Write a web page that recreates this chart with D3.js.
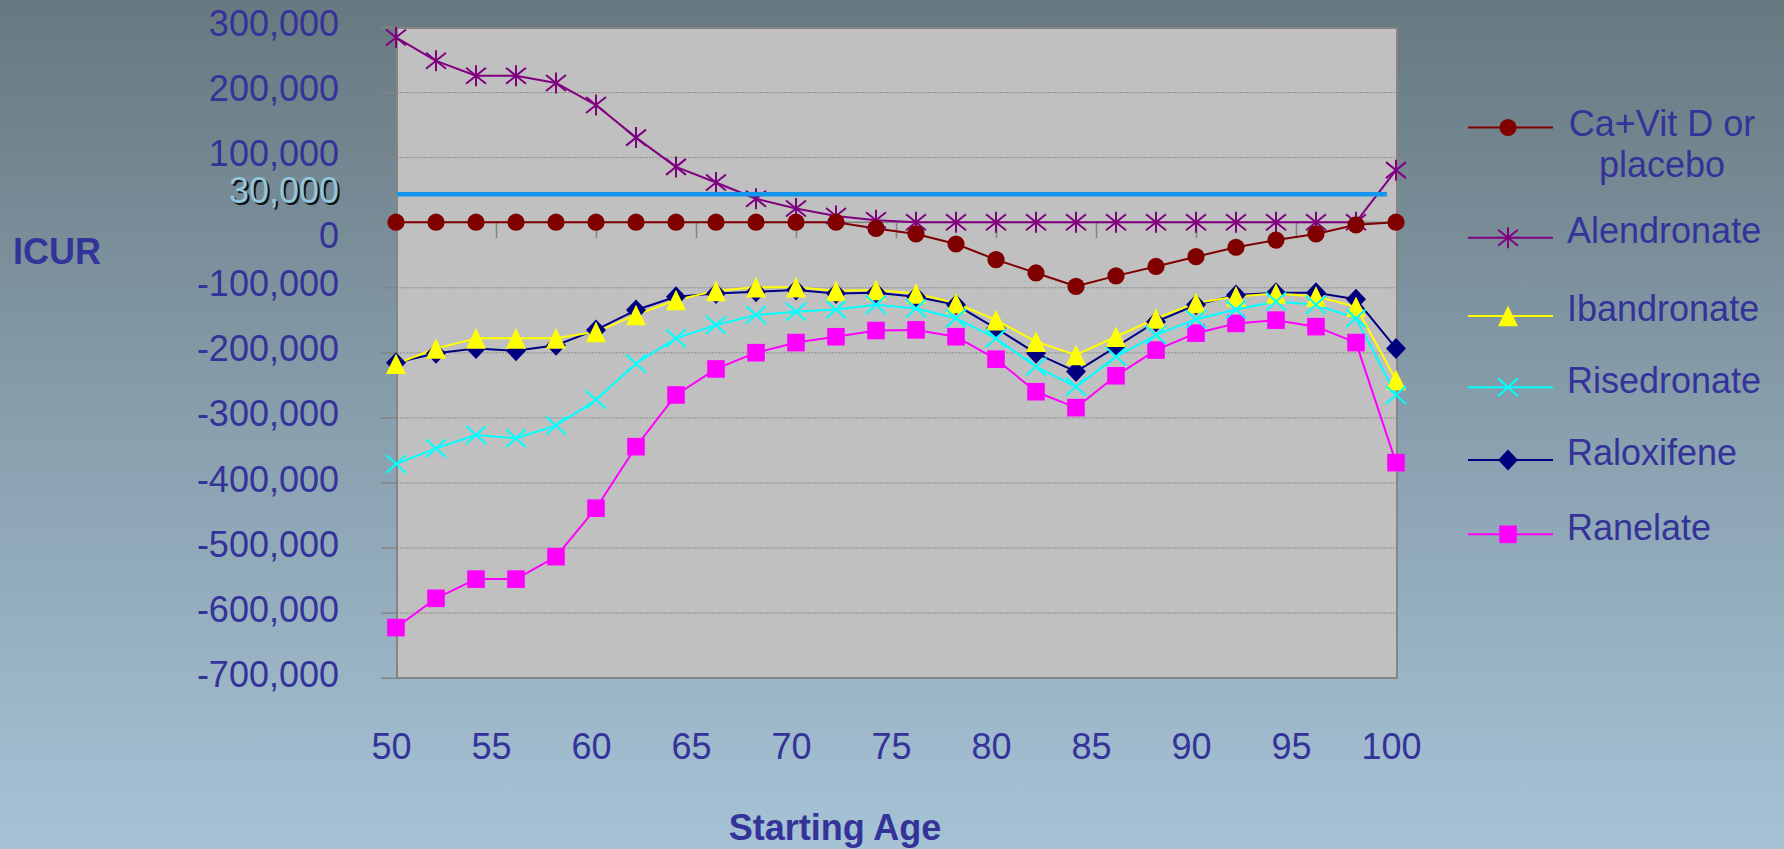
<!DOCTYPE html>
<html>
<head>
<meta charset="utf-8">
<script src="https://cdn.jsdelivr.net/npm/d3@7"></script>
<style>
  html, body { margin: 0; padding: 0; }
  svg { display: block; }
</style>
</head>
<body>
<svg id="chart" width="1784" height="849"></svg>
<script>
// ---------------- DATA ----------------
const ages = [50, 52, 54, 56, 58, 60, 62, 64, 66, 68, 70, 72, 74, 76, 78, 80, 82, 84, 86, 88, 90, 92, 94, 96, 98, 100];

const caVitD = [0, 0, 0, 0, 0, 0, 0, 0, 0, 0, 0, 0, -9500, -18000, -33500, -57500, -78000, -98500, -82500, -68000, -53000, -38500, -27500, -18000, -4000, 0];
const alendronate = [284000, 248000, 225000, 225000, 214000, 180000, 130000, 85000, 61000, 36000, 21000, 9500, 3000, 0, 0, 0, 0, 0, 0, 0, 0, 0, 0, 0, 0, 80000];
const ibandronate = [-217500, -194000, -178500, -178500, -178500, -168500, -142500, -119500, -105500, -100000, -100000, -105500, -104000, -109500, -124500, -150500, -183500, -204000, -176000, -148000, -124000, -114000, -109500, -114000, -130000, -242500];
const risedronate = [-371500, -347500, -327000, -332000, -312500, -273000, -217000, -178500, -158000, -142500, -137500, -134000, -127000, -132500, -147500, -178500, -222000, -253000, -206500, -173500, -149000, -134000, -122000, -127000, -147500, -265500];
const raloxifene = [-216000, -201500, -194000, -197500, -189000, -165500, -135000, -114500, -109500, -107000, -104000, -109500, -108500, -114500, -127000, -163000, -201500, -229500, -191500, -153000, -127000, -112000, -108500, -108500, -118500, -194000];
const ranelate = [-623000, -578000, -548500, -548500, -514000, -439500, -345000, -265500, -225500, -200500, -185000, -176000, -166500, -165500, -176000, -210500, -260500, -285000, -236000, -196500, -170500, -155500, -150500, -160500, -185000, -369500];

const seriesNames = ["Ca+Vit D or placebo", "Alendronate", "Ibandronate", "Risedronate", "Raloxifene", "Ranelate"];

const yTickValues = [300000, 200000, 100000, 0, -100000, -200000, -300000, -400000, -500000, -600000, -700000];
const yTickLabels = ["300,000", "200,000", "100,000", "0", "-100,000", "-200,000", "-300,000", "-400,000", "-500,000", "-600,000", "-700,000"];
const xTickValues = [50, 55, 60, 65, 70, 75, 80, 85, 90, 95, 100];
const xTickLabels = ["50", "55", "60", "65", "70", "75", "80", "85", "90", "95", "100"];

const thresholdValue = [43000];      // drawn reference line (as placed in the picture)
const thresholdLabel = ["30,000"];

const yTitle = "ICUR";
const xTitle = "Starting Age";

// ---------------- STYLE / LAYOUT ----------------
const FONT = "'Liberation Sans', Arial, Helvetica, sans-serif";
const TEXT_COLOR = "#333399";
const plot = { left: 397, right: 1397, top: 28, bottom: 678 };

const styles = [
  { color: "#800000", marker: "circle" },
  { color: "#800080", marker: "star" },
  { color: "#ffff00", marker: "triangle" },
  { color: "#00ffff", marker: "x" },
  { color: "#000080", marker: "diamond" },
  { color: "#ff00ff", marker: "square" }
];

const series = [caVitD, alendronate, ibandronate, risedronate, raloxifene, ranelate].map((vals, i) => ({
  name: seriesNames[i],
  values: vals.map((v, j) => ({ age: ages[j], v })),
  ...styles[i]
}));

const svg = d3.select("#chart");

// background gradient
const defs = svg.append("defs");
const grad = defs.append("linearGradient").attr("id", "bg").attr("x1", 0).attr("y1", 0).attr("x2", 0).attr("y2", 1);
grad.append("stop").attr("offset", "0%").attr("stop-color", "#677880");
grad.append("stop").attr("offset", "50%").attr("stop-color", "#889fad");
grad.append("stop").attr("offset", "100%").attr("stop-color", "#a6c3d6");
svg.append("rect").attr("width", 1784).attr("height", 849).attr("fill", "url(#bg)");

// scales
const x = d3.scaleLinear().domain([50, 100]).range([plot.left - 1, plot.right - 1]);
const y = d3.scaleLinear().domain([-700000, 300000]).range([677.7, 27]);

// plot area
svg.append("rect")
  .attr("x", plot.left).attr("y", plot.top)
  .attr("width", plot.right - plot.left).attr("height", plot.bottom - plot.top)
  .attr("fill", "#c0c0c0");

// gridlines
svg.append("g")
  .attr("transform", `translate(${plot.left},0)`)
  .call(d3.axisLeft(y).tickValues(yTickValues).tickSize(-(plot.right - plot.left)).tickFormat(""))
  .call(g => g.select(".domain").remove())
  .call(g => g.selectAll("line").attr("stroke", "#8e8e8e").attr("stroke-width", 1).attr("stroke-dasharray", "2,1"));

// plot border
svg.append("rect")
  .attr("x", plot.left).attr("y", plot.top)
  .attr("width", plot.right - plot.left).attr("height", plot.bottom - plot.top)
  .attr("fill", "none").attr("stroke", "#858585").attr("stroke-width", 2);

// y axis ticks + labels
const yAxisG = svg.append("g")
  .attr("transform", `translate(${plot.left},0)`)
  .call(d3.axisLeft(y).tickValues(yTickValues).tickSize(16).tickPadding(42)
    .tickFormat((d, i) => yTickLabels[i]));
yAxisG.select(".domain").remove();
yAxisG.selectAll("line").attr("stroke", "#858585").attr("stroke-width", 1.5);
yAxisG.selectAll("text")
  .attr("fill", TEXT_COLOR)
  .style("font-family", FONT).style("font-size", "36px")
  .attr("y", d => d === 0 ? 14 : -3);

// x axis at zero with tick marks
const xZero = svg.append("g")
  .attr("transform", `translate(0,${y(0)})`)
  .call(d3.axisBottom(x).tickValues(xTickValues.slice(1, -1)).tickSize(16).tickFormat(""));
xZero.select(".domain").attr("stroke", "#858585").attr("stroke-width", 1.5).attr("d", `M${plot.left},0H${plot.right}`);
xZero.selectAll("line").attr("stroke", "#858585").attr("stroke-width", 1.5);

// x tick labels
const xLab = svg.append("g")
  .attr("transform", `translate(-5,700)`)
  .call(d3.axisBottom(x).tickValues(xTickValues).tickSize(0).tickPadding(33)
    .tickFormat((d, i) => xTickLabels[i]));
xLab.select(".domain").remove();
xLab.selectAll("text").attr("fill", TEXT_COLOR).style("font-family", FONT).style("font-size", "36px");

// titles
svg.append("text").attr("x", 13).attr("y", 264).text(yTitle)
  .attr("fill", TEXT_COLOR).style("font-family", FONT).style("font-size", "36px").style("font-weight", "bold");
svg.append("text").attr("x", 835).attr("y", 840).attr("text-anchor", "middle").text(xTitle)
  .attr("fill", TEXT_COLOR).style("font-family", FONT).style("font-size", "36px").style("font-weight", "bold");

// marker shapes
function markerPath(type) {
  switch (type) {
    case "circle": return d3.symbol(d3.symbolCircle, Math.PI * 8.6 * 8.6)();
    case "star": return "M-10,-8L10,8M-10,8L10,-8M0,-10.5L0,10.5";
    case "triangle": return "M0,-10.3L10,10.3L-10,10.3Z";
    case "x": return "M-10,-9L10,9M-10,9L10,-9";
    case "diamond": return "M0,-10.5L10,0L0,10.5L-10,0Z";
    case "square": return "M-8.8,-8.8H8.8V8.8H-8.8Z";
  }
}
function styleMarker(sel, s) {
  if (s.marker === "star" || s.marker === "x") {
    sel.attr("fill", "none").attr("stroke", s.color).attr("stroke-width", 2);
  } else {
    sel.attr("fill", s.color).attr("stroke", "none");
  }
}

// lines
const line = d3.line().x(d => x(d.age)).y(d => y(d.v));
const lineOrder = [5, 3, 4, 2, 1, 0];
lineOrder.forEach(i => {
  const s = series[i];
  svg.append("path").datum(s.values)
    .attr("d", line).attr("fill", "none")
    .attr("stroke", s.color).attr("stroke-width", 2).attr("stroke-linejoin", "round");
});

// markers (drawing order chosen to match overlaps in the picture)
const markerOrder = [1, 0, 4, 2, 5, 3];
markerOrder.forEach(i => {
  const s = series[i];
  svg.append("g").selectAll("path").data(s.values).join("path")
    .attr("transform", d => `translate(${x(d.age)},${y(d.v)})`)
    .attr("d", markerPath(s.marker))
    .call(sel => styleMarker(sel, s));
});

// threshold line and its label
svg.append("g").selectAll("line").data(thresholdValue).join("line")
  .attr("x1", plot.left).attr("x2", plot.right - 10)
  .attr("y1", d => y(d)).attr("y2", d => y(d))
  .attr("stroke", "#1296ee").attr("stroke-width", 4.5);
const thrG = svg.append("g");
thrG.selectAll("text.shadow").data(thresholdLabel).join("text").attr("class", "shadow")
  .attr("x", 341).attr("y", 205).attr("text-anchor", "end").text(d => d)
  .attr("fill", "#111").style("font-family", FONT).style("font-size", "36px");
thrG.selectAll("text.main").data(thresholdLabel).join("text").attr("class", "main")
  .attr("x", 339).attr("y", 203).attr("text-anchor", "end").text(d => d)
  .attr("fill", "#93c6dc").style("font-family", FONT).style("font-size", "36px");

// legend
const legendY = [127.5, 237.7, 316, 387.3, 460, 534.3];
const legend = svg.append("g");
series.forEach((s, i) => {
  const g = legend.append("g").attr("transform", `translate(0,${legendY[i]})`);
  g.append("line").attr("x1", 1468).attr("x2", 1553).attr("y1", 0).attr("y2", 0)
    .attr("stroke", s.color).attr("stroke-width", 2);
  g.append("path").attr("transform", "translate(1508,0)").attr("d", markerPath(s.marker))
    .call(sel => styleMarker(sel, s));
  if (i === 0) {
    const t = g.append("text").attr("text-anchor", "middle")
      .attr("fill", TEXT_COLOR).style("font-family", FONT).style("font-size", "36px");
    t.append("tspan").attr("x", 1662).attr("y", 8.3).text("Ca+Vit D or");
    t.append("tspan").attr("x", 1662).attr("y", 49.3).text("placebo");
  } else {
    g.append("text").attr("x", 1567).attr("y", 5.2).text(s.name)
      .attr("fill", TEXT_COLOR).style("font-family", FONT).style("font-size", "36px");
  }
});
</script>
</body>
</html>
